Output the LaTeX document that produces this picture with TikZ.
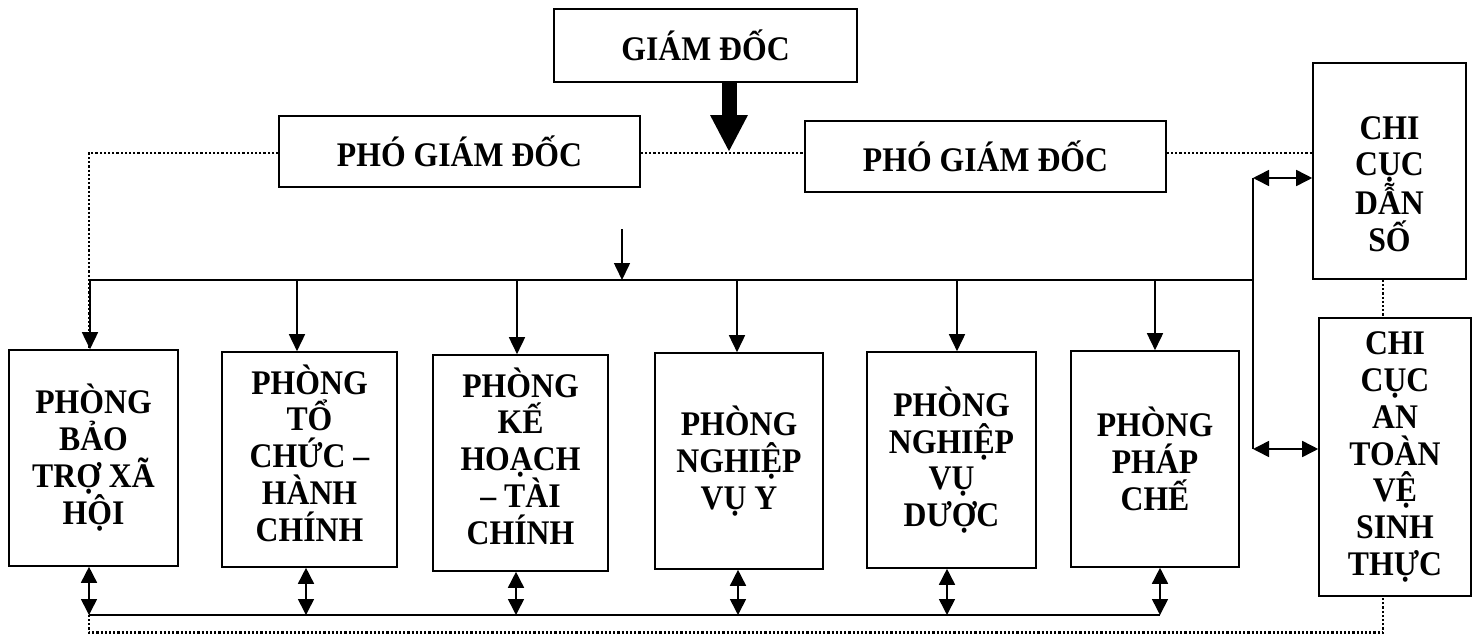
\documentclass[tikz,border=0pt]{standalone}
\usepackage{fontspec}
\setmainfont[FakeStretch=0.92]{Liberation Serif}
\usetikzlibrary{arrows.meta,backgrounds}
\begin{document}
\begin{tikzpicture}[x=1pt,y=-1pt,
  box/.style={draw, fill=white, line width=1.6pt, align=center, inner sep=0pt,
    font=\fontsize{34.5}{36.7}\selectfont\bfseries},
  lbl/.style={align=center, inner sep=0pt, font=\fontsize{34.5}{36.7}\selectfont\bfseries},
  conn/.style={line width=1.6pt},
  arr/.style={line width=1.6pt, -{Triangle[width=16pt,length=17pt]}},
  darr/.style={line width=1.6pt, {Triangle[width=16pt,length=16pt]}-{Triangle[width=16pt,length=16pt]}},
  dots/.style={line width=2.2pt, dash pattern=on 2.2pt off 2pt},
  bigarr/.style={line width=15pt, -{Triangle[width=35pt,length=37pt]}}]
\useasboundingbox (0,0) rectangle (1477,634);

% top boxes
\node[box, minimum width=303pt, minimum height=73pt] (gd) at (705.5,45.5) {GIÁM ĐỐC};
\node[box, minimum width=361pt, minimum height=71pt] (pg1) at (459.5,151.5) {PHÓ GIÁM ĐỐC};
\node[box, minimum width=361pt, minimum height=71pt] (pg2) at (985.5,156.5) {PHÓ GIÁM ĐỐC};

% right boxes
\node[box, minimum width=153pt, minimum height=216pt] (ds) at (1389.5,171) {};
\node[lbl] (dstext) at (1389.5,184) {CHI\\CỤC\\DẪN\\SỐ};
\node[box, minimum width=152pt, minimum height=278pt] (at) at (1395,457) {CHI\\CỤC\\AN\\TOÀN\\VỆ\\SINH\\THỰC};

% bottom boxes
\node[box, minimum width=169pt, minimum height=216pt] (b1) at (93.5,458) {PHÒNG\\BẢO\\TRỢ XÃ\\HỘI};
\node[box, minimum width=175pt, minimum height=215pt] (b2) at (309.5,459.5) {};
\node[lbl] (b2text) at (309.5,453) {PHÒNG\\TỔ\\CHỨC –\\HÀNH\\CHÍNH};
\node[box, minimum width=175pt, minimum height=216pt] (b3) at (520.5,463) {};
\node[lbl] (b3text) at (520.5,456) {PHÒNG\\KẾ\\HOẠCH\\– TÀI\\CHÍNH};
\node[box, minimum width=168pt, minimum height=216pt] (b4) at (739,461) {PHÒNG\\NGHIỆP\\VỤ Y};
\node[box, minimum width=169pt, minimum height=216pt] (b5) at (951.5,460) {PHÒNG\\NGHIỆP\\VỤ\\DƯỢC};
\node[box, minimum width=168pt, minimum height=216pt] (b6) at (1155,459) {PHÒNG\\PHÁP\\CHẾ};

% helper coordinates
\coordinate (dl) at (89,153);
\coordinate (dbl) at (89,632.5);
\coordinate (dbr) at (1383,632.5);
\coordinate (dv) at (1383,300);
\coordinate (busL) at (90,280);
\coordinate (busR) at (1253,280);
\coordinate (vt) at (1253,178);
\coordinate (vb) at (1253,449);
\coordinate (sa) at (622,229);
\coordinate (sb) at (622,280);
\coordinate (bt) at (729,152);
\coordinate (lbL) at (89,615);
\coordinate (lbR) at (1160,615);

% dotted lines (behind the boxes)
\begin{scope}[on background layer]
\draw[dots] (dl -| pg1.west) -- (dl) -- (dbl) -- (dbr) -- (dbr |- at.south);
\draw[dots] (pg1.east |- dl) -- (pg2.west |- dl);
\draw[dots] (pg2.east |- dl) -- (ds.west |- dl);
\draw[dots] (dv |- ds.south) -- (dv |- at.north);
\end{scope}

% big arrow
\draw[bigarr] (bt |- gd.south) -- (bt);

% top bus
\draw[conn] (busL) -- (busR);
\draw[conn] (vt) -- (vb);
\draw[arr] (sa) -- (sb);
\draw[darr] (vt) -- (vt -| ds.west);
\draw[darr] (vb) -- (vb -| at.west);

% drops to offices
\foreach \x/\b in {90/b1, 297/b2, 517/b3, 737/b4, 957/b5, 1155/b6} {
  \coordinate (t\b) at (\x,280);
  \draw[arr] (t\b) -- (t\b |- \b.north);
}

% bottom bus
\draw[conn] (lbL) -- (lbR);
\foreach \x/\b in {89/b1, 306/b2, 516/b3, 738/b4, 947/b5, 1160/b6} {
  \coordinate (u\b) at (\x,615);
  \draw[darr] (u\b |- \b.south) -- (u\b);
}
\end{tikzpicture}
\end{document}
